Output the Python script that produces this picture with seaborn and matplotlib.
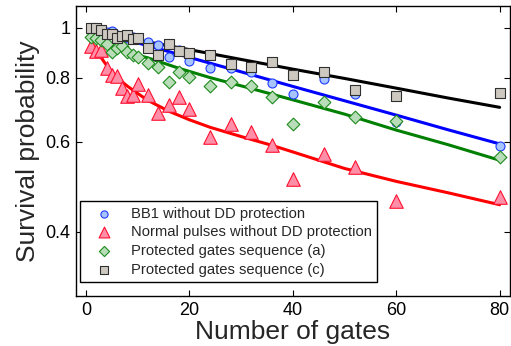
import matplotlib
matplotlib.use("Agg")
import matplotlib.pyplot as plt
import seaborn as sns
import pandas as pd

# number of gates for each measured point
n_gates = [1, 2, 3, 4, 5, 6, 7, 8, 9, 10, 12, 14, 16, 18, 20, 24, 28, 32, 36, 40, 46, 52, 60, 80]

bb1 = [0.99, 0.99, 0.985, 0.98, 0.987, 0.97, 0.96, 0.955, 0.96, 0.95, 0.94, 0.925, 0.879, 0.905,
       0.862, 0.837, 0.834, 0.82, 0.78, 0.742, 0.795, 0.743, 0.656, 0.588]
normal = [0.923, 0.902, 0.906, 0.836, 0.809, 0.807, 0.764, 0.737, 0.739, 0.776, 0.739, 0.681, 0.707,
          0.734, 0.694, 0.613, 0.649, 0.627, 0.59, 0.508, 0.567, 0.535, 0.459, 0.468]
prot_a = [0.962, 0.955, 0.947, 0.93, 0.899, 0.913, 0.92, 0.899, 0.885, 0.879, 0.853, 0.84, 0.785,
          0.821, 0.803, 0.771, 0.785, 0.77, 0.734, 0.649, 0.716, 0.669, 0.659, 0.56]
prot_c = [1.0, 1.0, 0.99, 0.975, 0.975, 0.957, 0.965, 0.969, 0.95, 0.955, 0.913, 0.885, 0.929, 0.902,
          0.892, 0.885, 0.85, 0.838, 0.859, 0.809, 0.819, 0.757, 0.736, 0.748]

# fitted curves
fit_n_lin = [1, 10, 20, 30, 40, 50, 60, 70, 80]
fit_bb1 = [0.991, 0.935, 0.876, 0.821, 0.769, 0.721, 0.676, 0.633, 0.594]
fit_c = [0.984, 0.947, 0.907, 0.868, 0.831, 0.797, 0.763, 0.730, 0.70]
fit_n_a = [1, 3, 5, 8, 12, 18, 24, 30, 40, 50, 60, 70, 80]
fit_a = [0.962, 0.943, 0.926, 0.896, 0.874, 0.834, 0.80, 0.771, 0.724, 0.679, 0.632, 0.592, 0.552]
fit_n_norm = [1, 2, 3, 4, 6, 8, 10, 12, 16, 20, 24, 30, 36, 40, 50, 60, 70, 80]
fit_norm = [0.94, 0.905, 0.873, 0.845, 0.80, 0.77, 0.745, 0.722, 0.688, 0.662, 0.64, 0.614, 0.59,
            0.573, 0.532, 0.502, 0.477, 0.452]

labels = ["BB1 without DD protection", "Normal pulses without DD protection",
          "Protected gates sequence (a)", "Protected gates sequence (c)"]

sns.set_theme(style="ticks")
plt.rcParams["font.family"] = ["Liberation Sans", "DejaVu Sans"]

fig = plt.figure(figsize=(5.11, 3.46), dpi=100)
ax = fig.add_axes([0.149, 0.1445, 0.849, 0.8385])

# fits
sns.lineplot(x=fit_n_lin, y=fit_c, color="black", lw=2.2, ax=ax, legend=False)
sns.lineplot(x=fit_n_lin, y=fit_bb1, color="#0000ff", lw=2.2, ax=ax, legend=False)
sns.lineplot(x=fit_n_a, y=fit_a, color="#008000", lw=2.2, ax=ax, legend=False)
sns.lineplot(x=fit_n_norm, y=fit_norm, color="#ff0000", lw=2.2, ax=ax, legend=False)

# data points
sns.scatterplot(x=n_gates, y=bb1, marker="o", s=42, color="#a8c4ff", edgecolor="#1f3cff",
                linewidth=0.8, ax=ax, label=labels[0], zorder=3)
sns.scatterplot(x=n_gates, y=normal, marker="^", s=95, color="#ff8fa8", edgecolor="#ff1030",
                linewidth=0.8, ax=ax, label=labels[1], zorder=3)
sns.scatterplot(x=n_gates, y=prot_a, marker="D", s=42, color="#b8ddb8", edgecolor="#1e8c1e",
                linewidth=0.8, ax=ax, label=labels[2], zorder=3)
sns.scatterplot(x=n_gates, y=prot_c, marker="s", s=60, color="#cdc9c1", edgecolor="#303030",
                linewidth=0.8, ax=ax, label=labels[3], zorder=3)

ax.set_yscale("log")
ax.set_ylim(0.3, 1.104)
ax.set_xlim(-1.9, 82)
ax.set_yticks([0.4, 0.6, 0.8, 1.0])
ax.set_yticklabels(["0.4", "0.6", "0.8", "1"])
ax.minorticks_off()
ax.set_xticks([0, 20, 40, 60, 80])
ax.tick_params(direction="in", top=True, right=True, length=4, width=0.8,
               labelsize=13, pad=4, colors="black")
for sp in ax.spines.values():
    sp.set_linewidth(1.0)
    sp.set_color("black")

ax.set_xlabel("Number of gates", fontsize=19, labelpad=1)
ax.set_ylabel("Survival probability", fontsize=19, labelpad=4)

leg = ax.legend(loc="lower left", bbox_to_anchor=(0.009, 0.048), borderaxespad=0,
                fontsize=10.6, frameon=True, fancybox=False, framealpha=1,
                edgecolor="black", borderpad=0.36, labelspacing=0.32,
                handlelength=2.5, handletextpad=0.6, scatterpoints=1, markerscale=0.8)
leg.get_frame().set_linewidth(1.0)

fig.savefig("out.png", dpi=100)
